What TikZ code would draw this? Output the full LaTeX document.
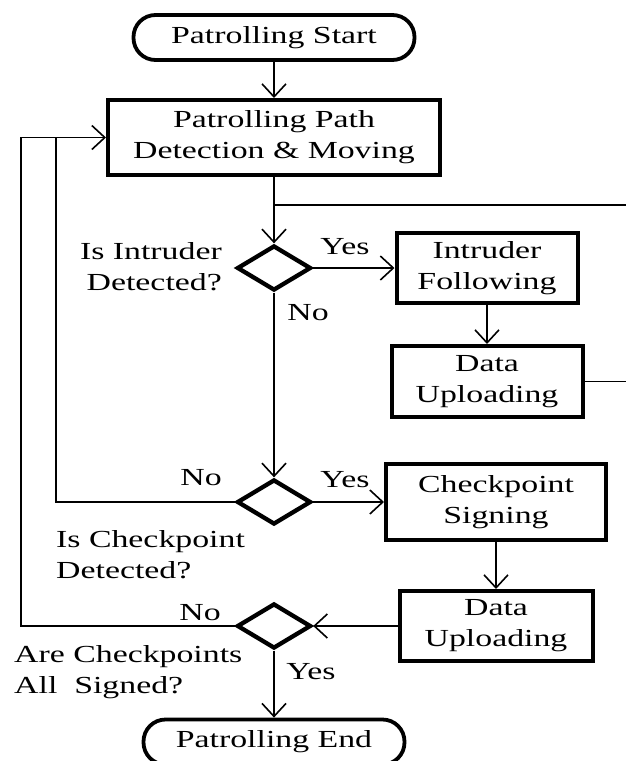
\documentclass[tikz,border=0pt]{standalone}
\usepackage{fontspec}
\setmainfont{Liberation Serif}[FakeStretch=1.38]
\usetikzlibrary{calc,positioning,shapes.geometric,arrows.meta}

\begin{document}
\begin{tikzpicture}[x=1pt,y=-1pt,
  txt/.style={font=\fontsize{24.5}{31}\selectfont, inner sep=0pt},
  terminal/.style={txt, draw, line width=3.8pt, rounded corners=22pt, minimum height=45pt, align=center},
  procbox/.style={txt, draw, line width=4pt, align=center},
  decision/.style={draw, diamond, line width=4.3pt, minimum width=74pt, minimum height=45pt, inner sep=0pt},
  conn/.style={line width=1.6pt},
  arr/.style={conn, -{Straight Barb[length=13pt,width=24pt]}}]
\useasboundingbox (0,0) rectangle (625,761);

% Main column: start, path box and the three decisions
\node[terminal, minimum width=281pt] (start) at (274,37.5) {Patrolling Start};
\node[procbox, minimum width=332pt, minimum height=75pt] (path) at (274,137.5) {Patrolling Path\\Detection \& Moving};
\node[decision] (intr) at (274,268) {};
\node[decision] (chk) at (274,502) {};
\node[decision] (all) at (274,626) {};
\node[terminal, minimum width=261pt] (stop) at (274,742) {Patrolling End};

% Right column boxes
\node[procbox, minimum width=181pt, minimum height=70pt] (follow) at (487,268) {Intruder\\Following};
\node[procbox, minimum width=191pt, minimum height=71pt] (upload1) at (487,381.5) {Data\\Uploading};
\node[procbox, minimum width=220pt, minimum height=76pt] (sign) at (496,502) {Checkpoint\\Signing};
\node[procbox, minimum width=193pt, minimum height=70pt] (upload2) at (496,626) {Data\\Uploading};

% Labels
\node[txt, align=right, anchor=east] (qintr) at (222,267) {Is Intruder\\Detected?};
\node[txt] (yes1) at (345,247) {Yes};
\node[txt] (no1) at (308,313) {No};
\node[txt] (no2) at (201,478) {No};
\node[txt] (yes2) at (345,480) {Yes};
\node[txt, align=left, anchor=west] (qchk) at (56,555) {Is Checkpoint\\Detected?};
\node[txt] (no3) at (200,613) {No};
\node[txt, align=left, anchor=west] (qall) at (14,672.5) {Are Checkpoints\\All\ \ Signed?};
\node[txt] (yes3) at (311,672) {Yes};

% Loop corners and lines leaving the picture
\coordinate (loopA) at (21,137.5);
\coordinate (loopB) at (56,137.5);
\coordinate (joinA) at (274,205);
\coordinate (retA) at (632,205);
\coordinate (retB) at (632,381.5);

% Connectors
\draw[arr] (start) -- (path);
\draw[arr] (path) -- (intr);
\draw[conn] (retA) -- (joinA);
\draw[arr] (intr) -- (follow);
\draw[arr] (follow) -- (upload1);
\draw[conn] (upload1) -- (retB);
\draw[arr] (intr) -- (chk);
\draw[arr] (chk) -- (sign);
\draw[arr] (sign) -- (upload2);
\draw[arr] (upload2) -- (all);
\draw[arr] (all) -- (stop);
\draw[conn] (chk.west) -| (loopB);
\draw[arr] (all.west) -| (loopA) -- (path.west);
\end{tikzpicture}
\end{document}
